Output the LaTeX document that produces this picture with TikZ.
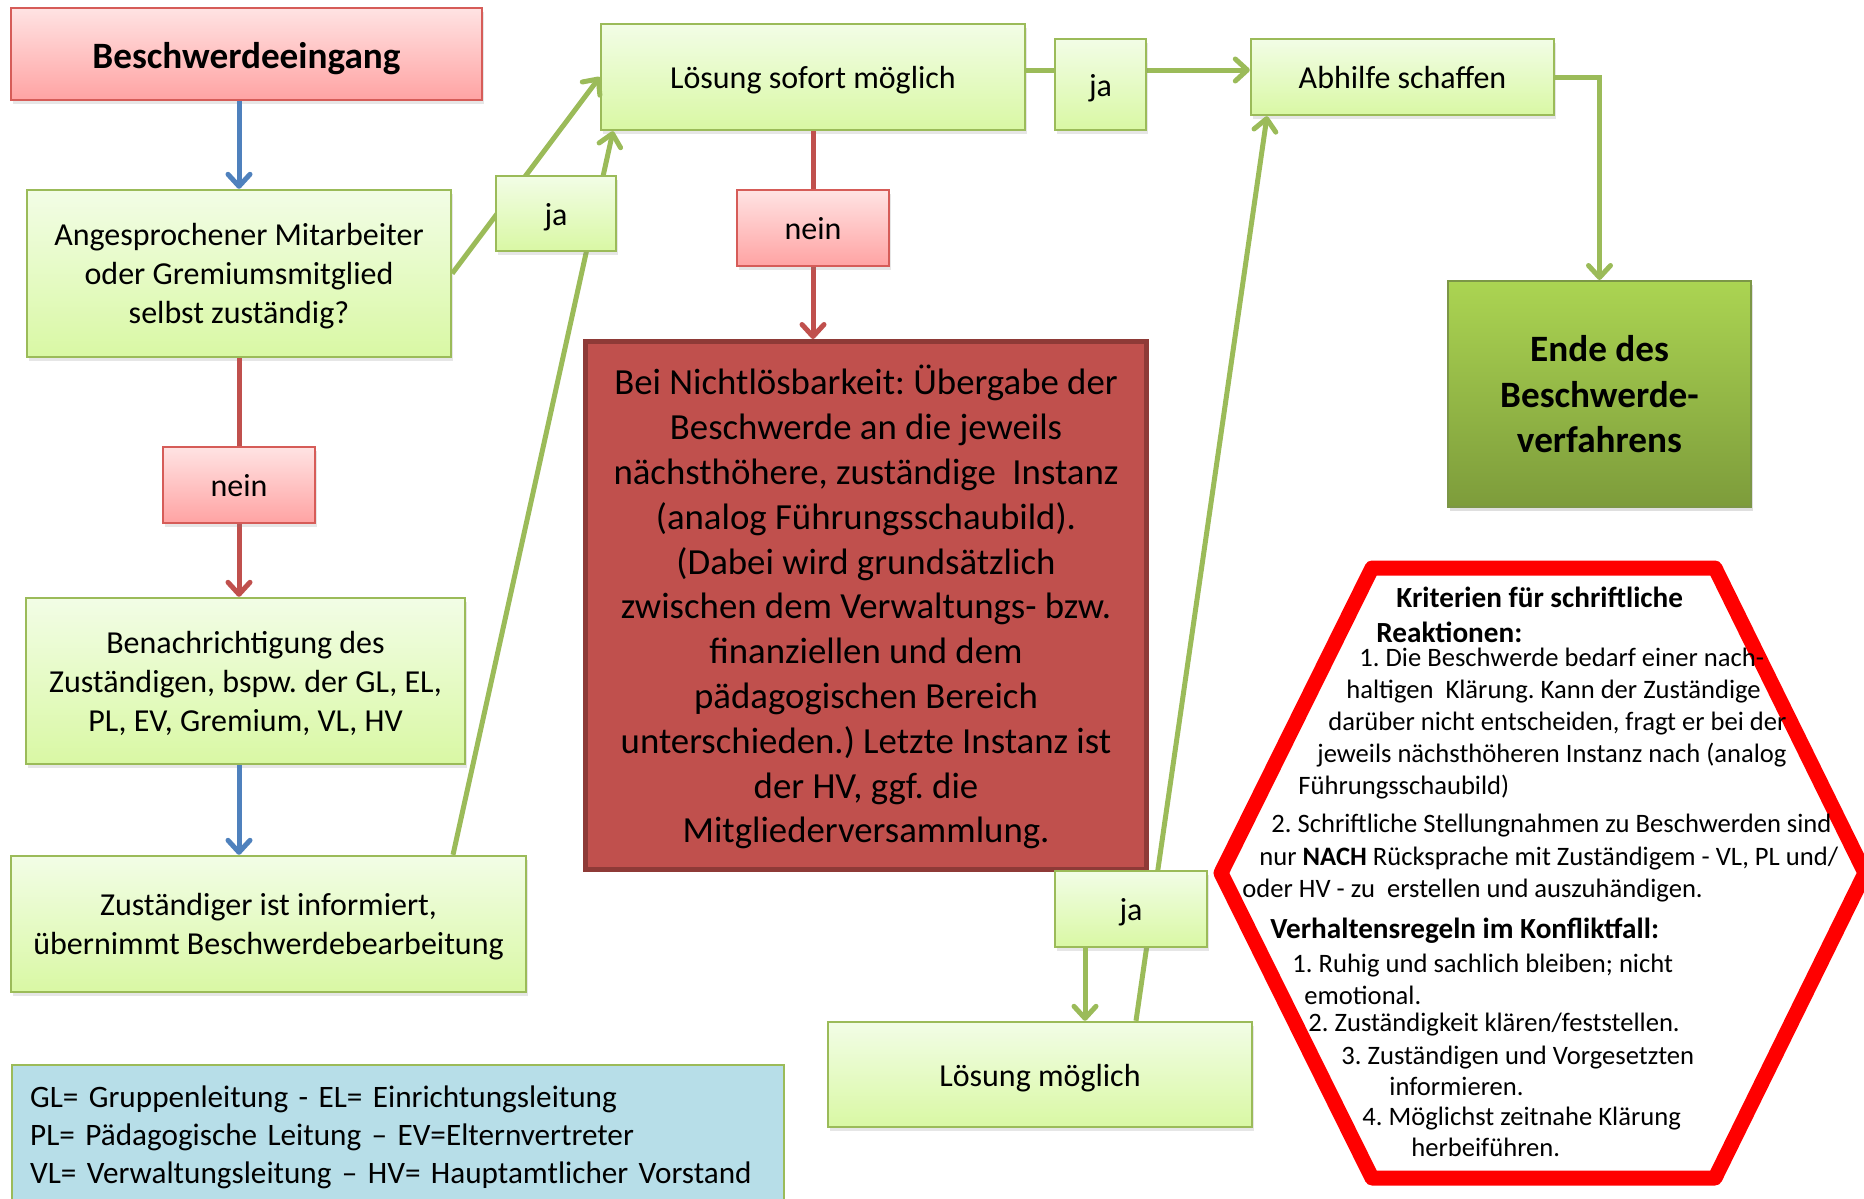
\documentclass[tikz,border=0pt]{standalone}
\usepackage{fontspec}
\setmainfont{Carlito}
\usetikzlibrary{arrows.meta,shadows}
\frenchspacing

\definecolor{gline}{HTML}{9BBB59}
\definecolor{rline}{HTML}{C0504D}
\definecolor{bline}{HTML}{4F81BD}
\definecolor{gtop}{HTML}{F2FDE6}
\definecolor{gbot}{HTML}{D9F8A4}
\definecolor{ptop}{HTML}{FFE3E3}
\definecolor{pbot}{HTML}{FFA3A3}
\definecolor{pborder}{HTML}{D65C58}
\definecolor{instfill}{HTML}{C0504D}
\definecolor{instborder}{HTML}{8E3A37}
\definecolor{endtop}{HTML}{ABD452}
\definecolor{endbot}{HTML}{7D9C3B}
\definecolor{legfill}{HTML}{B7DEE8}
\definecolor{hexred}{HTML}{FF0000}

\newcommand{\hexhead}[1]{{\fontsize{14.6}{17}\selectfont\bfseries #1}}

\begin{document}
\begin{tikzpicture}
        [x=0.5pt, y=-0.5pt,
        gbox/.style={draw=gline, line width=1.2pt, top color=gtop, bottom color=gbot, align=center, inner sep=0pt,
            font=\fontsize{16}{19.5}\selectfont, drop shadow={opacity=.2, shadow xshift=.8pt, shadow yshift=-2pt}},
        pbox/.style={gbox, draw=pborder, top color=ptop, bottom color=pbot},
        oneline/.style={text height=14.8pt, text depth=3.2pt},
        instbox/.style={draw=instborder, line width=2.5pt, fill=instfill, align=center, inner sep=0pt,
            font=\fontsize{18.4}{22.4}\selectfont},
        endbox/.style={draw=gline!80!black, line width=1pt, top color=endtop, bottom color=endbot, align=center,
            inner sep=0pt, font=\fontsize{18.6}{22.6}\selectfont\bfseries, drop shadow={opacity=.25, shadow xshift=.8pt, shadow yshift=-2pt}},
        legbox/.style={draw=gline, line width=1.2pt, fill=legfill, align=left, anchor=north west,
            inner xsep=9pt, inner ysep=10.5pt, text width=368pt, font=\fontsize{15.6}{19}\selectfont},
        flow/.style={line width=2.5pt, -{Straight Barb[length=6pt, width=11pt, round]}},
        hextext/.style={anchor=base west, inner sep=0pt, font=\fontsize{13.3}{16}\selectfont}]

        \useasboundingbox (0,0) rectangle (1864,1199);
        \clip (0,0) rectangle (1864,1199);

        \node [pbox, minimum width=235.5pt, minimum height=46pt, font=\fontsize{18.6}{22.6}\selectfont\bfseries,
            text height=17.8pt, text depth=3.7pt] (eingang) at (246.5,54) {Beschwerdeeingang};
        \node [gbox, minimum width=212pt, minimum height=83.5pt, text depth=-1pt] (ang) at (239,273.5) {Angesprochener Mitarbeiter\\oder Gremiumsmitglied\\selbst zuständig?};
        \node [gbox, minimum width=219.5pt, minimum height=83pt, text depth=-2.2pt] (benach) at (245.5,681) {Benachrichtigung des\\Zuständigen, bspw. der GL, EL,\\PL, EV, Gremium, VL, HV};
        \node [gbox, minimum width=257.5pt, minimum height=68pt, text depth=-2.2pt] (zust) at (268.5,924) {Zuständiger ist informiert,\\übernimmt Beschwerdebearbeitung};
        \node [legbox] (legende) at (11,1064) {GL= Gruppenleitung - EL= Einrichtungsleitung\\PL= Pädagogische Leitung – EV=Elternvertreter\\VL= Verwaltungsleitung – HV= Hauptamtlicher Vorstand};

        \node [gbox, oneline, minimum width=212pt, minimum height=53pt] (sofort) at (813,77) {Lösung sofort möglich};
        \node [instbox, minimum width=280.5pt, minimum height=264pt, text depth=1.3pt] (instanz) at (866,605.5) {Bei Nichtlösbarkeit: Übergabe der\\Beschwerde an die jeweils\\nächsthöhere, zuständige~ Instanz\\(analog Führungsschaubild).\\(Dabei wird grundsätzlich\\zwischen dem Verwaltungs- bzw.\\finanziellen und dem\\pädagogischen Bereich\\unterschieden.) Letzte Instanz ist\\der HV, ggf. die\\Mitgliederversammlung.};
        \node [gbox, oneline, minimum width=212pt, minimum height=52.5pt] (moeglich) at (1040,1074.5) {Lösung möglich};

        \node [gbox, oneline, minimum width=151.5pt, minimum height=38pt] (abhilfe) at (1402.5,77) {Abhilfe schaffen};
        \node [endbox, minimum width=151.5pt, minimum height=113pt, text depth=-2.4pt] (ende) at (1599.5,394) {Ende des\\Beschwerde-\\verfahrens};

        \draw [flow, bline] (eingang.south -| ang.north) -- (ang.north);
        \draw [flow, rline] (ang.south) -- (benach.north -| ang.south);
        \draw [flow, bline] (benach.south -| ang.south) -- (zust.north -| ang.south);
        \draw [flow, gline] (ang.east) -- (sofort.west);
        \draw [flow, gline] (zust.north -| 453,0) -- (sofort.south -| 613,0);
        \draw [flow, rline] (sofort.south) -- (instanz.north -| sofort.south);
        \draw [flow, gline] (sofort.east |- 0,70) -- (abhilfe.west |- 0,70);
        \draw [flow, gline] (abhilfe.east) -| (ende.north);
        \draw [flow, gline] (moeglich.north -| 1136,0) -- (abhilfe.south -| 1267,0);

        \node [gbox, oneline, minimum width=60pt, minimum height=37.5pt] (ja1) at (556,213.5) {ja};
        \node [pbox, oneline, minimum width=76pt, minimum height=38pt] (nein1) at (239,485) {nein};
        \node [pbox, oneline, minimum width=76pt, minimum height=38pt] (nein2) at (813,228) {nein};
        \node [gbox, oneline, minimum width=45.5pt, minimum height=45.5pt] (ja2) at (1100.5,84.5) {ja};
        \node [gbox, oneline, minimum width=76pt, minimum height=38pt] (ja3) at (1131,909) {ja};
        \draw [flow, gline] (ja3.south -| 1085,0) -- (moeglich.north -| 1085,0);

        \draw [hexred, line width=7.5pt, line join=round] (1221,873) -- (1372,568) -- (1715,568) -- (1865,873)
            -- (1715,1178) -- (1372,1178) -- cycle;

        \foreach \tx/\ty/\tline [count=\k] in {
            1396/607/{\hexhead{Kriterien für schriftliche}},
            1376/642/{\hexhead{Reaktionen:}},
            1359/666/{1. Die Beschwerde bedarf einer nach-},
            1346/698/{haltigen~ Klärung. Kann der Zuständige},
            1328/730/{darüber nicht entscheiden, fragt er bei der},
            1317/762/{jeweils nächsthöheren Instanz nach (analog},
            1298/794/{Führungsschaubild)},
            1271/832/{2. Schriftliche Stellungnahmen zu Beschwerden sind},
            1259/865/{nur \textbf{NACH} Rücksprache mit Zuständigem - VL, PL und/},
            1242/897/{oder HV - zu~ erstellen und auszuhändigen.},
            1270/938/{\hexhead{Verhaltensregeln im Konfliktfall:}},
            1292/972/{1. Ruhig und sachlich bleiben; nicht},
            1304/1004/{emotional.},
            1308/1031/{2. Zuständigkeit klären/feststellen.},
            1341/1064/{3. Zuständigen und Vorgesetzten},
            1389/1095/{informieren.},
            1362/1125/{4. Möglichst zeitnahe Klärung},
            1411/1156/{herbeiführen.}}
            \node [hextext] (regel\k) at (\tx,\ty) {\tline};
\end{tikzpicture}
\end{document}
